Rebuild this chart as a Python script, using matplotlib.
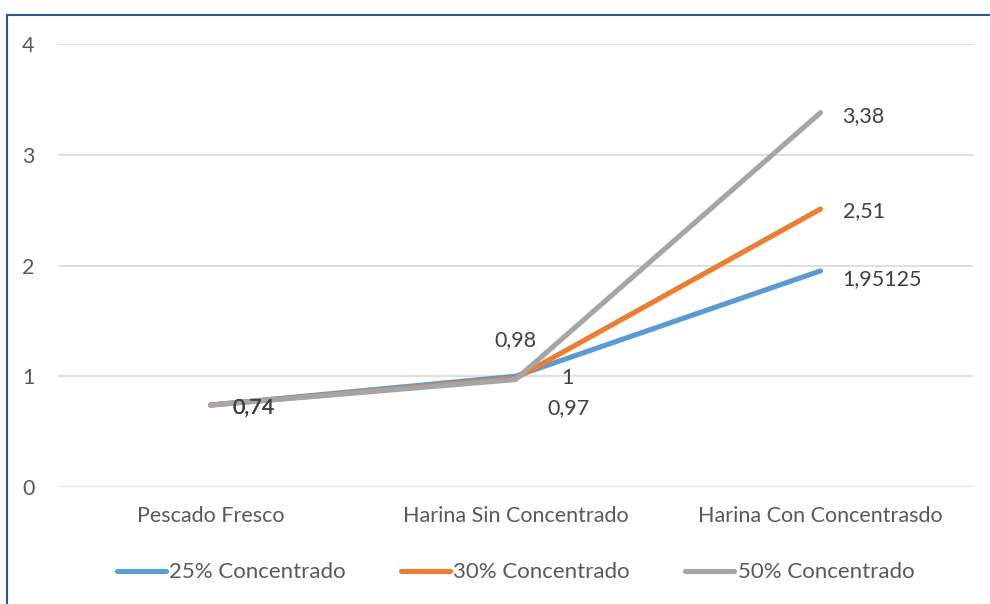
import matplotlib.pyplot as plt
from matplotlib.lines import Line2D

categories = ['Pescado Fresco', 'Harina Sin Concentrado', 'Harina Con Concentrasdo']
series_names = ['25% Concentrado', '30% Concentrado', '50% Concentrado']
values_25 = [0.74, 1, 1.95125]
values_30 = [0.74, 0.98, 2.51]
values_50 = [0.74, 0.97, 3.38]
labels_25 = ['0,74', '1', '1,95125']
labels_30 = ['0,74', '0,98', '2,51']
labels_50 = ['0,74', '0,97', '3,38']
colors = ['#5B9BD5', '#ED7D31', '#A5A5A5']

plt.rcParams['font.family'] = ['Lato', 'DejaVu Sans']
fs = 15.5

fig = plt.figure(figsize=(9.9, 6.04), dpi=100)
ax = fig.add_axes([58/990, 117/604, 915/990, 443/604])

x = range(len(categories))
all_vals = [values_25, values_30, values_50]
all_labels = [labels_25, labels_30, labels_50]
for vals, name, c in zip(all_vals, series_names, colors):
    ax.plot(x, vals, color=c, lw=3.7, solid_capstyle='round', solid_joinstyle='round', label=name)

# label offsets in pixels for each point
offsets = [
    [(22, -2), (52, -2), (22, -8)],
    [(22, -2), (0, 38), (22, -2)],
    [(22, -2), (53, -29), (22, -3)],
]
for vals, labs, offs in zip(all_vals, all_labels, offsets):
    for i, (v, lab) in enumerate(zip(vals, labs)):
        dx, dy = offs[i]
        ha = 'center' if i == 1 else 'left'
        ax.annotate(lab, (i, v), xytext=(dx, dy), textcoords='offset pixels',
                    ha=ha, va='center', fontsize=fs, color='#404040')

ax.set_xlim(-0.5, 2.5)
ax.set_ylim(0, 4)
ax.set_yticks([0, 1, 2, 3, 4])
ax.set_xticks(list(x))
ax.set_xticklabels(categories)
ax.tick_params(length=0, labelsize=fs, labelcolor='#595959')
ax.tick_params(axis='y', pad=17)
ax.tick_params(axis='x', pad=14)
ax.grid(axis='y', color='#D9D9D9', lw=1.2)
ax.set_axisbelow(True)
for s in ax.spines.values():
    s.set_visible(False)

leg = ax.legend(loc='upper center', bbox_to_anchor=(0.5, -0.125), ncol=3, frameon=False,
                fontsize=16, handlelength=2.2, handletextpad=0.15, columnspacing=2.5)
for t in leg.get_texts():
    t.set_color('#595959')

# chart frame (left and top edges)
fig.add_artist(Line2D([7/990, 7/990], [0, 1 - 15/604], color='#2F5597', lw=1.5))
fig.add_artist(Line2D([7/990, 1], [1 - 15/604, 1 - 15/604], color='#2F5597', lw=1.5))

fig.savefig('out.png', dpi=100)
